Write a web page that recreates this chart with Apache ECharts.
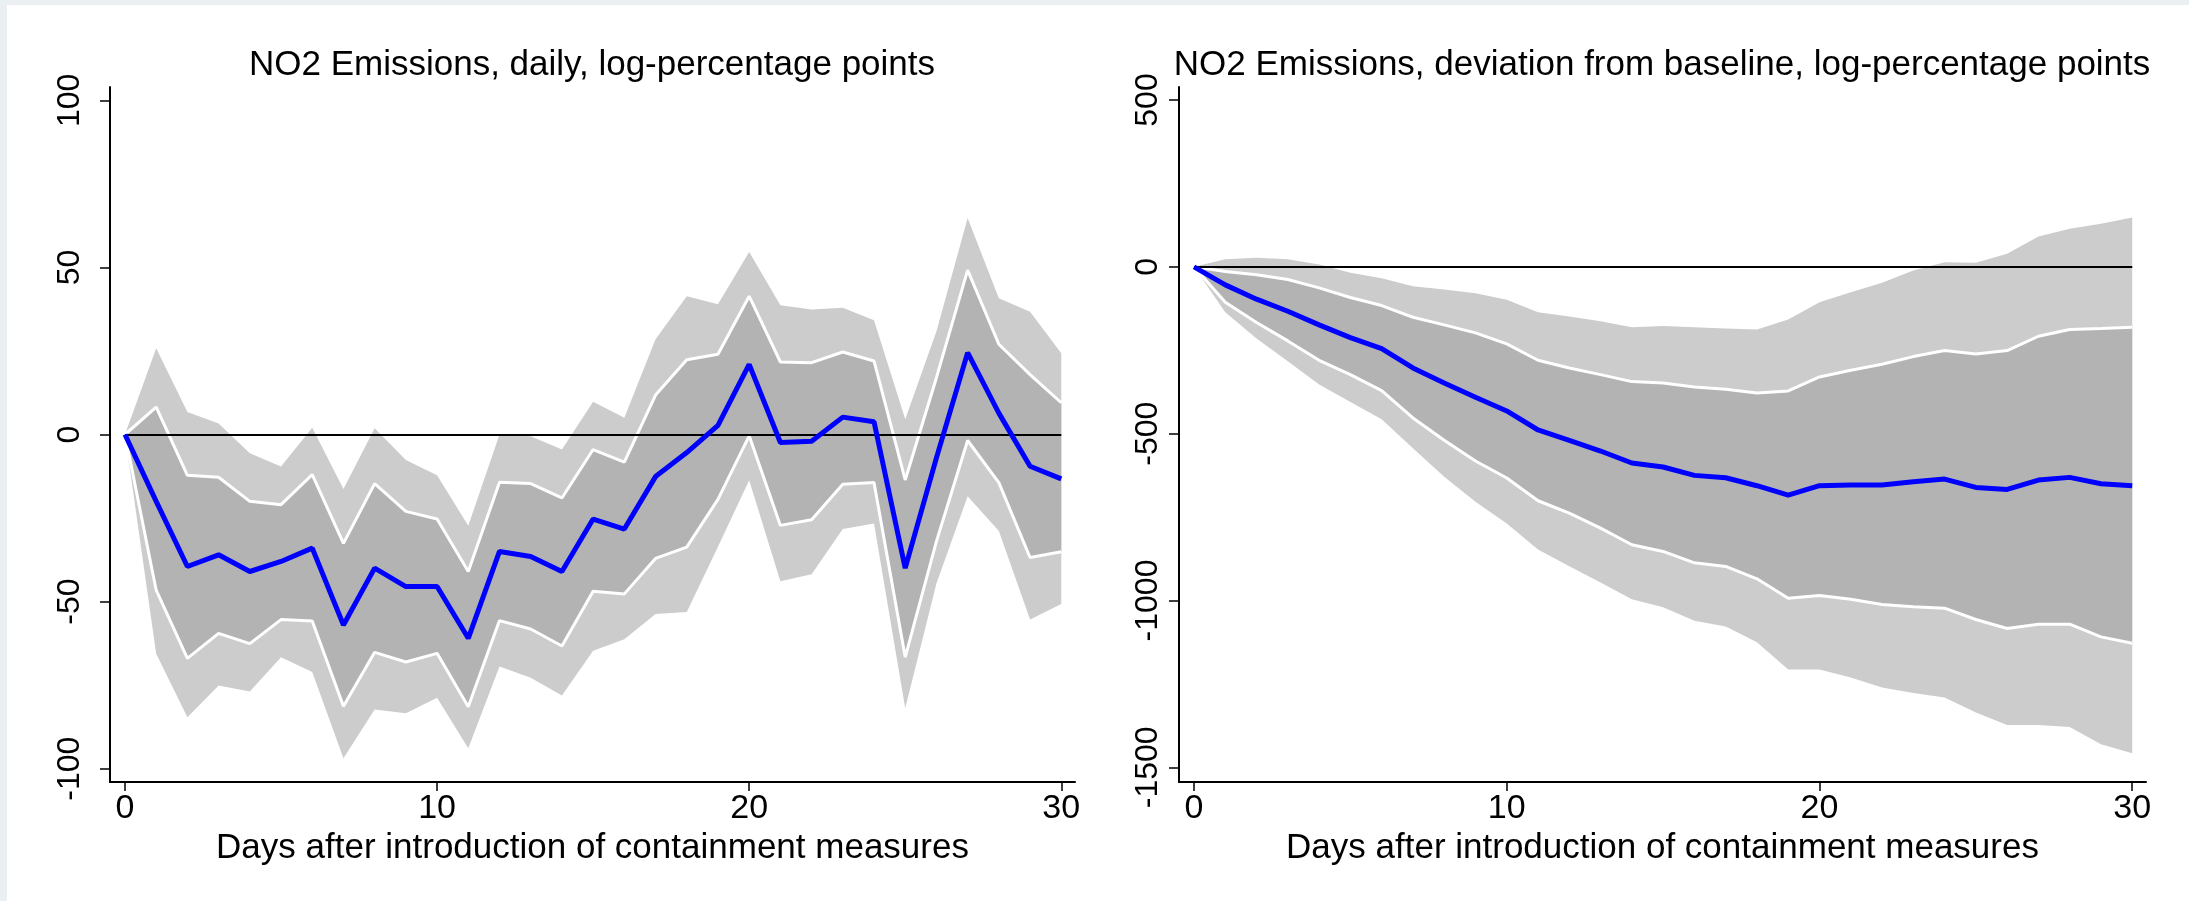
<!DOCTYPE html>
<html>
<head>
<meta charset="utf-8">
<title>NO2 Emissions</title>
<script src="https://cdn.jsdelivr.net/npm/echarts@6/dist/echarts.min.js"></script>
<style>
  html, body { margin: 0; padding: 0; background: #fff; }
  #chart { width: 2189px; height: 901px; }
</style>
</head>
<body>
<div id="chart"></div>
<script>
// days after containment
const days = [0, 1, 2, 3, 4, 5, 6, 7, 8, 9, 10, 11, 12, 13, 14, 15, 16, 17, 18, 19, 20, 21, 22, 23, 24, 25, 26, 27, 28, 29, 30];
const xTicks = [0, 10, 20, 30];

// left panel: daily, log-percentage points
const dailyMid = [0, -20, -39.5, -36, -41, -38, -34, -57, -40, -45.5, -45.5, -61, -35, -36.5, -41, -25.3, -28.3, -12.6, -5.4, 2.7, 21, -2.4, -2, 5.2, 3.8, -40, -7, 24.5, 6.4, -9.5, -13.3];
const dailyHi1 = [0, 8.2, -12.2, -12.8, -20, -21, -12, -32.6, -14.7, -23, -25.3, -41, -14.3, -14.7, -19, -4.5, -8.3, 11.8, 22.4, 24, 41.4, 21.7, 21.5, 24.7, 22, -13.6, 17, 49.2, 27, 17.9, 9.5];
const dailyLo1 = [0, -46.6, -67, -59.5, -62.6, -55.4, -55.8, -81.3, -65.2, -68.1, -65.5, -81.5, -55.7, -58.2, -63.3, -46.9, -47.7, -37.1, -33.7, -19.4, -0.4, -27.2, -25.5, -14.9, -14.4, -66.6, -32, -1.8, -14.4, -36.8, -35.1];
const dailyHi2 = [0, 25.8, 6.7, 3.3, -5.6, -9.6, 2, -16.3, 1.9, -7.6, -12.2, -27.3, 0, -0.5, -4.5, 9.8, 5, 28.5, 41.4, 39, 54.6, 38.7, 37.4, 37.9, 34.2, 4.6, 30.8, 64.8, 40.8, 36.7, 24.3];
const dailyLo2 = [0, -65.6, -84.6, -75.1, -76.9, -66.7, -71.1, -96.9, -82.3, -83.4, -78.8, -93.9, -69.4, -72.8, -78.1, -64.7, -61.3, -53.7, -53.1, -33.6, -13.7, -43.9, -41.8, -28.3, -26.6, -81.9, -44.6, -18.5, -28.9, -55.4, -50.7];
const dailyTicks = [-100, -50, 0, 50, 100];

// right panel: deviation from baseline (cumulative)
const devMid = [0, -54, -97, -133, -174, -212, -245, -303, -348, -391, -432, -489, -520, -552, -588, -600, -625, -632, -656, -684, -656, -654, -654, -644, -636, -661, -667, -639, -631, -650, -656];
const devHi1 = [0, -14, -24, -38, -63, -92, -116, -151, -174, -198, -231, -280, -303, -323, -344, -348, -360, -367, -378, -372, -330, -310, -292, -269, -251, -261, -251, -208, -188, -185, -181];
const devLo1 = [0, -106, -167, -222, -280, -323, -371, -453, -520, -582, -633, -701, -738, -783, -833, -853, -887, -898, -935, -993, -985, -996, -1012, -1019, -1023, -1057, -1084, -1071, -1071, -1109, -1128];
const devHi2 = [0, 23, 27, 23, 7, -18, -34, -58, -68, -79, -99, -136, -149, -163, -181, -177, -181, -185, -188, -158, -106, -76, -48, -11, 14, 12, 39, 91, 114, 129, 148];
const devLo2 = [0, -136, -215, -283, -353, -405, -457, -544, -629, -704, -769, -847, -897, -946, -996, -1020, -1061, -1078, -1125, -1207, -1207, -1231, -1261, -1277, -1291, -1336, -1373, -1373, -1379, -1431, -1458];
const devTicks = [-1500, -1000, -500, 0, 500];

const FONT = "'Liberation Sans', Arial, sans-serif";
const LIGHT = '#cccccc';
const DARK = '#b3b3b3';

function pairs(vals) {
  return days.map((d, i) => [d, vals[i]]);
}

// shaded band between lo and hi, one polygon through the axis scales
function band(idx, lo, hi, color, z) {
  return {
    type: 'custom', xAxisIndex: idx, yAxisIndex: idx, z: z, silent: true, clip: true,
    data: days.map((d, i) => [d, lo[i], hi[i]]),
    encode: { x: 0, y: [1, 2] },
    renderItem: function (params, api) {
      if (params.dataIndex !== 0) return null;
      let upper = days.map((d, i) => api.coord([d, hi[i]]));
      let lower = days.map((d, i) => api.coord([d, lo[i]])).reverse();
      return {
        type: 'polygon',
        shape: { points: upper.concat(lower) },
        style: { fill: color, stroke: null }
      };
    }
  };
}

function edge(idx, vals) {
  return {
    type: 'line', xAxisIndex: idx, yAxisIndex: idx, data: pairs(vals),
    symbol: 'none', silent: true, z: 4,
    lineStyle: { color: '#fff', width: 3 }
  };
}

function panelSeries(idx, mid, hi1, lo1, hi2, lo2) {
  return [
    band(idx, lo2, hi2, LIGHT, 2),
    band(idx, lo1, hi1, DARK, 3),
    edge(idx, hi1),
    edge(idx, lo1),
    {
      // zero reference line from day 0 to 30
      type: 'line', xAxisIndex: idx, yAxisIndex: idx, data: [], z: 5, silent: true,
      markLine: {
        silent: true, symbol: 'none', label: { show: false },
        lineStyle: { color: '#000', width: 2, type: 'solid' },
        data: [[{ coord: [days[0], 0] }, { coord: [days[days.length - 1], 0] }]]
      }
    },
    {
      type: 'line', xAxisIndex: idx, yAxisIndex: idx, data: pairs(mid),
      symbol: 'none', silent: true, z: 6,
      lineStyle: { color: '#0000ff', width: 5 }
    }
  ];
}

function xAxis(idx) {
  return {
    type: 'value', gridIndex: idx, min: -0.48, max: 30.44,
    name: 'Days after introduction of containment measures',
    nameLocation: 'middle', nameGap: 43,
    nameTextStyle: { fontSize: 35, color: '#000', fontFamily: FONT },
    axisLine: { onZero: false, lineStyle: { color: '#000', width: 2 } },
    axisTick: { customValues: xTicks, length: 9, lineStyle: { color: '#000', width: 1.5 } },
    axisLabel: { customValues: xTicks, fontSize: 34, color: '#000', fontFamily: FONT, margin: 10 },
    splitLine: { show: false }
  };
}

function yAxis(idx, min, max, ticks, margin) {
  return {
    type: 'value', gridIndex: idx, min: min, max: max,
    axisLine: { show: true, onZero: false, lineStyle: { color: '#000', width: 2 } },
    axisTick: { show: true, customValues: ticks, length: 10, lineStyle: { color: '#000', width: 1.5 } },
    axisLabel: {
      customValues: ticks, rotate: 90, fontSize: 32, color: '#000', fontFamily: FONT, margin: margin,
      formatter: v => String(v)
    },
    splitLine: { show: false }
  };
}

let chart = echarts.init(document.getElementById('chart'), null, { renderer: 'canvas' });

let option = {
  backgroundColor: '#eaf0f1',
  animation: false,
  graphic: [{
    type: 'rect', left: 7, top: 5, z: -10, silent: true,
    shape: { width: 2189 - 7, height: 901 - 5 },
    style: { fill: '#fff' }
  }],
  title: [
    {
      text: 'NO2 Emissions, daily, log-percentage points',
      left: 592, top: 48, padding: 0, textAlign: 'center',
      textStyle: { fontSize: 35, fontWeight: 'normal', color: '#000', fontFamily: FONT }
    },
    {
      text: 'NO2 Emissions, deviation from baseline, log-percentage points',
      left: 1662, top: 48, padding: 0, textAlign: 'center',
      textStyle: { fontSize: 35, fontWeight: 'normal', color: '#000', fontFamily: FONT }
    }
  ],
  grid: [
    { left: 110, top: 87, width: 965, height: 695 },
    { left: 1179, top: 87, width: 967, height: 695 }
  ],
  xAxis: [xAxis(0), xAxis(1)],
  yAxis: [
    yAxis(0, -104, 104, dailyTicks, 24),
    yAxis(1, -1544, 539, devTicks, 15)
  ],
  series: [].concat(
    panelSeries(0, dailyMid, dailyHi1, dailyLo1, dailyHi2, dailyLo2),
    panelSeries(1, devMid, devHi1, devLo1, devHi2, devLo2)
  )
};

chart.setOption(option);
</script>
</body>
</html>
